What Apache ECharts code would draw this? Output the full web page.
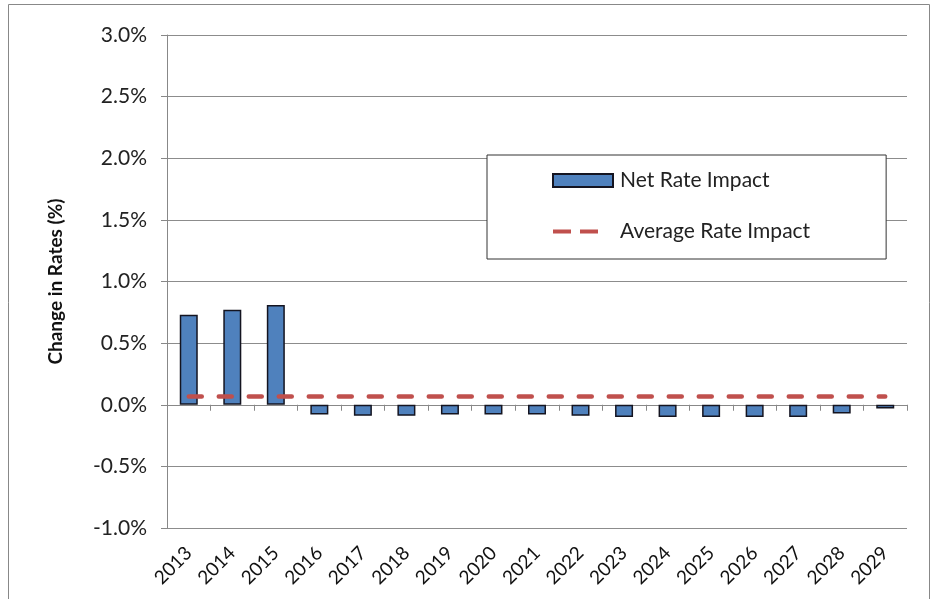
<!DOCTYPE html>
<html>
<head>
<meta charset="utf-8">
<script src="https://cdn.jsdelivr.net/npm/echarts@6/dist/echarts.min.js"></script>
<style>
  html, body { margin: 0; padding: 0; background: #fff; }
  #chart { width: 936px; height: 599px; }
</style>
</head>
<body>
<div id="chart"></div>
<script>
// 数据
var years = ['2013', '2014', '2015', '2016', '2017', '2018', '2019', '2020', '2021',
  '2022', '2023', '2024', '2025', '2026', '2027', '2028', '2029']
var netRate = [0.73, 0.77, 0.81, -0.08, -0.09, -0.09, -0.08, -0.08, -0.08,
  -0.09, -0.10, -0.10, -0.10, -0.10, -0.10, -0.07, -0.03]
var avgRate = [0.066, 0.066, 0.066, 0.066, 0.066, 0.066, 0.066, 0.066, 0.066,
  0.066, 0.066, 0.066, 0.066, 0.066, 0.066, 0.066, 0.066]

var font = 'Lato, "Open Sans", sans-serif'
var myChart = echarts.init(document.getElementById('chart'))
var option = {
  animation: false,
  textStyle: { fontFamily: font },
  grid: { left: 167, right: 29, top: 35, bottom: 71 },
  // 外框
  graphic: [{
    type: 'rect',
    shape: { x: 8.5, y: 4.5, width: 921, height: 600 },
    style: { fill: 'none', stroke: '#888', lineWidth: 1 },
    silent: true
  }],
  legend: {
    orient: 'vertical',
    left: 487,
    top: 155,
    padding: [15, 76, 17, 65],
    itemGap: 30,
    itemWidth: 60,
    itemHeight: 13,
    backgroundColor: '#fff',
    borderColor: '#333',
    borderWidth: 1,
    textStyle: { fontSize: 21, color: '#222', fontFamily: font, padding: [0, 0, 0, 2] },
    data: [
      { name: 'Net Rate Impact', icon: 'rect' },
      {
        name: 'Average Rate Impact',
        // 两段虚线图标
        icon: 'path://M0,4.5H18V8.5H0Z M27,4.5H45V8.5H27Z M0,0 M60,13',
        itemStyle: { color: '#c0504d', borderWidth: 0 }
      }
    ]
  },
  xAxis: [{
    type: 'category',
    data: years,
    position: 'bottom',
    axisLine: { show: false, onZero: false },
    axisTick: { show: false },
    axisLabel: { rotate: 45, fontSize: 19, color: '#111', margin: 22 }
  }, {
    // 零线 + 刻度
    type: 'category',
    data: years,
    position: 'top',
    axisLine: { onZero: true, lineStyle: { color: '#888', width: 1 } },
    axisTick: { show: true, inside: true, length: 6, lineStyle: { color: '#888' } },
    axisLabel: { show: false }
  }],
  yAxis: {
    type: 'value',
    min: -1,
    max: 3,
    interval: 0.5,
    name: 'Change in Rates (%)',
    nameLocation: 'middle',
    nameGap: 102,
    nameTextStyle: { fontSize: 19, fontWeight: 'bold', color: '#111' },
    axisLine: { show: true, lineStyle: { color: '#888' } },
    axisTick: { show: true, length: 6, lineStyle: { color: '#888' } },
    axisLabel: {
      fontSize: 21,
      color: '#222',
      margin: 20,
      formatter: function (v) { return v.toFixed(1) + '%' }
    },
    splitLine: { lineStyle: { color: '#8c8c8c', width: 1 } }
  },
  series: [{
    name: 'Net Rate Impact',
    type: 'bar',
    xAxisIndex: 0,
    barWidth: 18,
    itemStyle: { color: '#4f81bd', borderColor: '#141420', borderWidth: 1.5 },
    data: netRate
  }, {
    name: 'Average Rate Impact',
    type: 'line',
    xAxisIndex: 0,
    symbol: 'none',
    itemStyle: { color: '#c0504d' },
    lineStyle: { color: '#c0504d', width: 4.5, type: [13, 17], cap: 'round' },
    data: avgRate,
    z: 3
  }]
}
myChart.setOption(option)
</script>
</body>
</html>
